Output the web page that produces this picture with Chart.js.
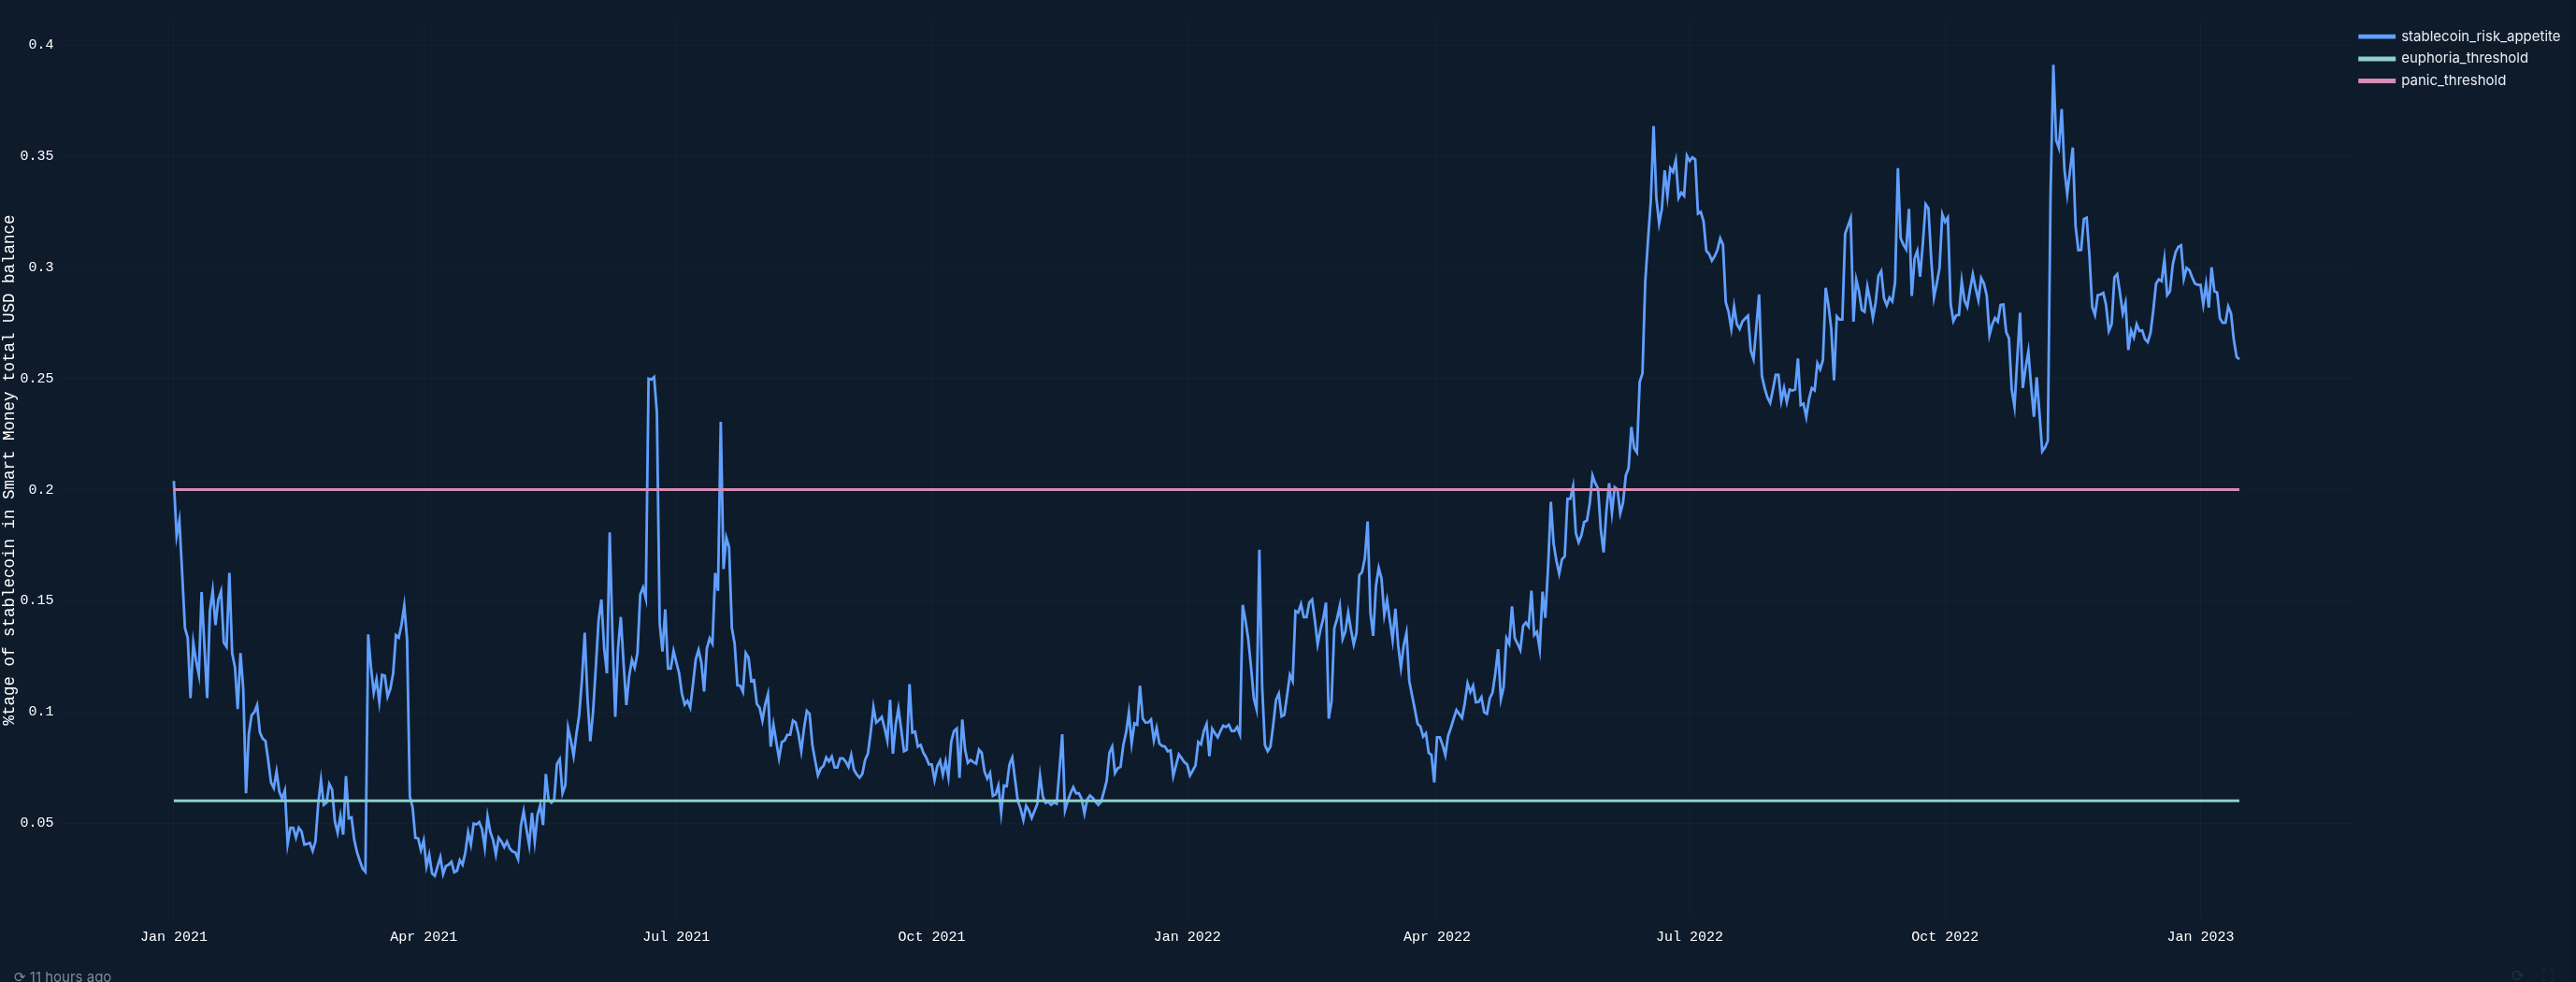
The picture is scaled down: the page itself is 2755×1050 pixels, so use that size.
<!DOCTYPE html>
<html>
<head>
<meta charset="utf-8">
<title>Stablecoin risk appetite</title>
<script src="https://cdn.jsdelivr.net/npm/chart.js@4/dist/chart.umd.min.js"></script>
<style>
html,body{margin:0;padding:0;background:#0d1b2b;width:2755px;height:1050px;overflow:hidden;position:relative}
canvas{position:absolute;left:0;top:0;display:block}
#age{position:absolute;left:15px;top:1035px;font:15px Inter,sans-serif;color:#7d8a99;white-space:nowrap}
#age span,.faint{font-family:"DejaVu Sans",sans-serif}
.faint{position:absolute;top:1033px;font-size:17px;color:#1d3142}
#edge{position:absolute;left:2751px;top:0;width:4px;height:1050px;background:#0b1826}
</style>
</head>
<body>
<canvas id="c" width="2755" height="1050"></canvas>
<div id="age"><span>⟳</span> 11 hours ago</div>
<div class="faint" style="left:2686px">⟳</div>
<div class="faint" style="left:2719px">⛶</div>
<div id="edge"></div>
<script>
// Values, one per day starting at Jan 1 2021 (index = days since then)
const riskAppetite = [
.2039,.1791,.1861,.1623,.1377,.1333,.1062,.1312,.1230,.1167,.1539,.1300,.1062,.1455,.1546,.1391,.1504,.1543,.1312,.1293,
.1626,.1265,.1202,.1013,.1265,.1104,.0634,.0901,.0985,.0999,.1031,.0908,.0880,.0870,.0781,.0683,.0658,.0732,.0641,.0610,
.0647,.0406,.0479,.0479,.0435,.0479,.0462,.0403,.0406,.0411,.0375,.0417,.0585,.0694,.0582,.0592,.0676,.0651,.0508,.0456,
.0532,.0448,.0711,.0521,.0526,.0424,.0368,.0330,.0295,.0281,.1349,.1202,.1086,.1146,.1045,.1167,.1163,.1069,.1104,.1174,
.1345,.1334,.1391,.1478,.1328,.0620,.0571,.0434,.0431,.0378,.0422,.0305,.0358,.0274,.0263,.0305,.0347,.0270,.0307,.0313,
.0326,.0279,.0286,.0333,.0313,.0368,.0459,.0403,.0498,.0494,.0504,.0473,.0389,.0529,.0459,.0424,.0358,.0434,.0417,.0392,
.0417,.0386,.0372,.0368,.0337,.0487,.0554,.0473,.0400,.0546,.0417,.0536,.0582,.0491,.0721,.0602,.0592,.0606,.0767,.0788,
.0634,.0669,.0929,.0873,.0802,.0901,.0985,.1146,.1356,.1062,.0868,.0999,.1202,.1413,.1506,.1286,.1174,.1808,.1342,.0978,
.1286,.1427,.1216,.1031,.1160,.1234,.1199,.1265,.1528,.1560,.1511,
.2499,.2495,.2506,.2345,.1398,.1272,.1461,.1195,.1195,.1275,.1223,.1174,.1083,.1033,.1050,.1019,.1125,.1237,.1279,.1223,
.1092,.1286,.1331,.1307,.1625,.1545,.2305,.1643,.1784,.1742,.1377,.1307,.1120,.1118,.1090,.1265,.1244,.1139,.1143,.1036,
.1019,.0961,.1033,.1080,.0844,.0942,.0865,.0791,.0865,.0872,.0897,.0897,.0961,.0952,.0900,.0823,.0928,.1005,.0991,.0851,
.0781,.0715,.0746,.0757,.0795,.0777,.0799,.0750,.0750,.0791,.0791,.0777,.0753,.0806,.0739,.0718,.0704,.0721,.0785,.0812,
.0907,.1022,.0952,.0963,.0977,.0928,.0872,.1054,.0812,.0942,.1015,.0921,.0823,.0830,.1125,.0907,.0911,.0844,.0851,.0816,
.0795,.0764,.0764,.0694,.0756,.0781,.0718,.0778,.0707,.0865,.0914,.0925,.0704,.0966,.0830,.0771,.0784,.0774,.0767,.0830,
.0816,.0732,.0700,.0725,.0622,.0629,.0669,.0545,.0669,.0666,.0764,.0795,.0697,.0599,.0564,.0514,.0578,.0557,.0523,.0554,
.0585,.0714,.0620,.0590,.0596,.0582,.0593,.0587,.0739,.0900,.0557,.0599,.0634,.0662,
.0634,.0634,.0608,.0543,.0606,.0624,.0613,.0596,.0582,.0596,.0641,.0690,.0816,.0844,.0725,.0746,.0753,.0851,.0907,.0998,
.0858,.0949,.0942,.1118,.0970,.0952,.0953,.0966,.0872,.0928,.0858,.0847,.0844,.0823,.0827,.0711,.0760,.0809,.0792,.0774,
.0764,.0714,.0736,.0760,.0865,.0854,.0914,.0945,.0801,.0924,.0904,.0886,.0914,.0938,.0932,.0942,.0914,.0914,.0932,.0899,
.1482,.1412,.1328,.1202,.1061,.1012,.1730,.1118,.0851,.0823,.0844,.0942,.1054,.1082,.0980,.0987,.1075,.1167,.1139,.1454,
.1447,.1485,.1426,.1426,.1493,.1506,.1412,.1304,.1370,.1419,.1492,.0970,.1047,.1377,.1419,.1478,.1328,.1363,.1447,.1370,
.1304,.1356,.1615,.1629,.1692,.1857,.1447,.1342,.1566,.1648,.1601,.1436,.1503,.1412,.1324,.1464,.1300,.1199,.1300,.1356,
.1139,.1075,.1012,.0946,.0935,.0889,.0904,.0816,.0806,.0683,.0886,.0886,.0851,.0806,.0893,.0928,.0970,.1008,.0991,.0973,
.1040,.1129,.1089,.1118,.1043,.1045,.1066,.0998,.0991,.1061,.1087,.1174,.1282,.1057,.1111,.1332,.1307,.1475,.1332,.1307,
.1279,.1387,.1402,.1384,.1545,.1346,.1360,.1282,.1541,.1423,.1650,
.1945,.1756,.1679,.1622,.1686,.1700,.1959,.1959,.2015,.1805,.1763,.1794,.1854,.1861,.1938,.2064,.2029,.2005,.1819,.1718,
.1903,.2029,.1896,.2011,.2001,.1893,.1941,.2064,.2096,.2282,.2186,.2167,.2485,.2523,.2934,.3123,.3298,.3635,.3312,.3197,
.3263,.3436,.3322,.3446,.3429,.3481,.3312,.3336,.3322,.3502,.3478,.3495,.3485,.3242,.3249,.3207,.3074,.3060,.3030,.3050,
.3078,.3130,.3102,.2843,.2800,.2723,.2824,.2744,.2723,.2756,.2770,.2782,.2625,.2587,.2730,.2878,.2513,.2457,.2415,.2390,
.2450,.2517,.2516,.2398,.2457,.2394,.2450,.2446,.2450,.2590,.2380,.2387,.2327,.2408,.2457,.2447,.2568,.2541,.2583,.2908,
.2829,.2723,.2492,.2779,.2765,.2765,.3151,.3186,.3221,.2756,.2945,.2892,.2808,.2800,.2913,.2850,.2772,.2843,.2962,.2983,
.2861,.2829,.2864,.2847,.2934,.3446,.3130,.3102,.3081,.3263,.2871,.3039,.3074,.2958,.3109,.3284,.3266,.3039,.2864,.2927,
.2997,.3238,.3204,.3224,.2836,.2758,.2784,.2786,.2938,.2850,.2822,.2899,.2969,.2906,.2852,.2952,.2927,.2873,.2695,.2744,
.2772,.2756,.2831,.2833,.2709,.2681,.2450,.2373,.2590,.2796,.2457,.2548,.2622,.2464,.2328,.2506,.2345,
.2172,.2190,.2219,.3333,.3911,.3572,.3537,.3712,.3439,.3329,.3434,.3539,.3186,.3077,.3078,.3217,.3223,.3053,.2822,.2786,
.2875,.2878,.2885,.2829,.2714,.2744,.2955,.2969,.2885,.2793,.2840,.2628,.2716,.2684,.2744,.2714,.2716,.2677,.2664,.2705,
.2807,.2927,.2946,.2938,.3036,.2875,.2892,.3011,.3067,.3092,.3099,.2948,.2997,.2987,.2955,.2927,.2921,.2922,.2833,.2924,
.2819,.3000,.2892,.2887,.2770,.2751,.2751,.2824,.2793,.2674,.2597,.2586
];
const euphoriaThreshold = [0.06, 0.06];
const panicThreshold = [0.2, 0.2];
const thresholdDays = [0, riskAppetite.length - 1];
const xTickDays = [0, 90, 181, 273, 365, 455, 546, 638, 730];
const xTickLabels = ['Jan 2021','Apr 2021','Jul 2021','Oct 2021','Jan 2022','Apr 2022','Jul 2022','Oct 2022','Jan 2023'];
const yTicks = [0.05, 0.1, 0.15, 0.2, 0.25, 0.3, 0.35, 0.4];

const MONO = '"Liberation Mono", monospace';
const gridColor = 'rgba(255,255,255,0.025)';

const legendPlacer = {
  id: 'legendPlacer',
  afterLayout(chart) {
    const l = chart.legend, w = l.right - l.left;
    l.left = 2515; l.right = l.left + w;
    l.top = 23; l.bottom = l.top + 100;
    if (l.adjustHitBoxes) l.adjustHitBoxes();
  }
};

new Chart(document.getElementById('c'), {
  type: 'line',
  data: {
    datasets: [
      { label: 'stablecoin_risk_appetite', data: riskAppetite.map((v, i) => ({ x: i, y: v })),
        borderColor: '#619fff', backgroundColor: '#619fff', borderWidth: 2.8, order: 2 },
      { label: 'euphoria_threshold', data: thresholdDays.map((d, i) => ({ x: d, y: euphoriaThreshold[i] })),
        borderColor: '#8dd0c8', backgroundColor: '#8dd0c8', borderWidth: 3, order: 1 },
      { label: 'panic_threshold', data: thresholdDays.map((d, i) => ({ x: d, y: panicThreshold[i] })),
        borderColor: '#d68db2', backgroundColor: '#d68db2', borderWidth: 3, order: 0 }
    ]
  },
  plugins: [legendPlacer],
  options: {
    responsive: false,
    devicePixelRatio: 1,
    animation: false,
    parsing: { xAxisKey: 'x', yAxisKey: 'y' },
    elements: { point: { radius: 0 }, line: { tension: 0, borderJoinStyle: 'miter', borderCapStyle: 'butt' } },
    layout: { padding: { left: 0, top: 22, right: 238, bottom: 0 } },
    plugins: {
      tooltip: { enabled: false },
      legend: {
        position: 'chartArea', align: 'start', reverse: true,
        labels: { color: '#e8edf2', font: { family: 'Inter', size: 15 }, boxWidth: 37, boxHeight: 2, padding: 8.7 }
      }
    },
    scales: {
      x: {
        type: 'linear', min: -41.4, max: 785.1,
        grid: { color: gridColor, drawTicks: false, lineWidth: 1 },
        border: { display: false },
        afterBuildTicks(s) { s.ticks = xTickDays.map(v => ({ value: v })); },
        afterFit(s) { s.height = 67; },
        ticks: {
          color: '#ffffff', font: { family: MONO, size: 15 }, padding: 10, maxRotation: 0, autoSkip: false,
          callback: v => xTickLabels[xTickDays.indexOf(v)]
        }
      },
      y: {
        type: 'linear', min: 0.0067, max: 0.411,
        grid: { color: gridColor, drawTicks: false, lineWidth: 1 },
        border: { display: false },
        afterBuildTicks(s) { s.ticks = yTicks.map(v => ({ value: v })); },
        afterFit(s) { s.width = 63; },
        title: {
          display: true, text: '%tage of stablecoin in Smart Money total USD balance',
          color: '#ffffff', font: { family: MONO, size: 17.5 }, padding: { top: 0, bottom: 0 }
        },
        ticks: {
          color: '#ffffff', font: { family: MONO, size: 15 }, padding: 5.5, autoSkip: false,
          callback: v => String(v)
        }
      }
    }
  }
});
</script>
</body>
</html>
